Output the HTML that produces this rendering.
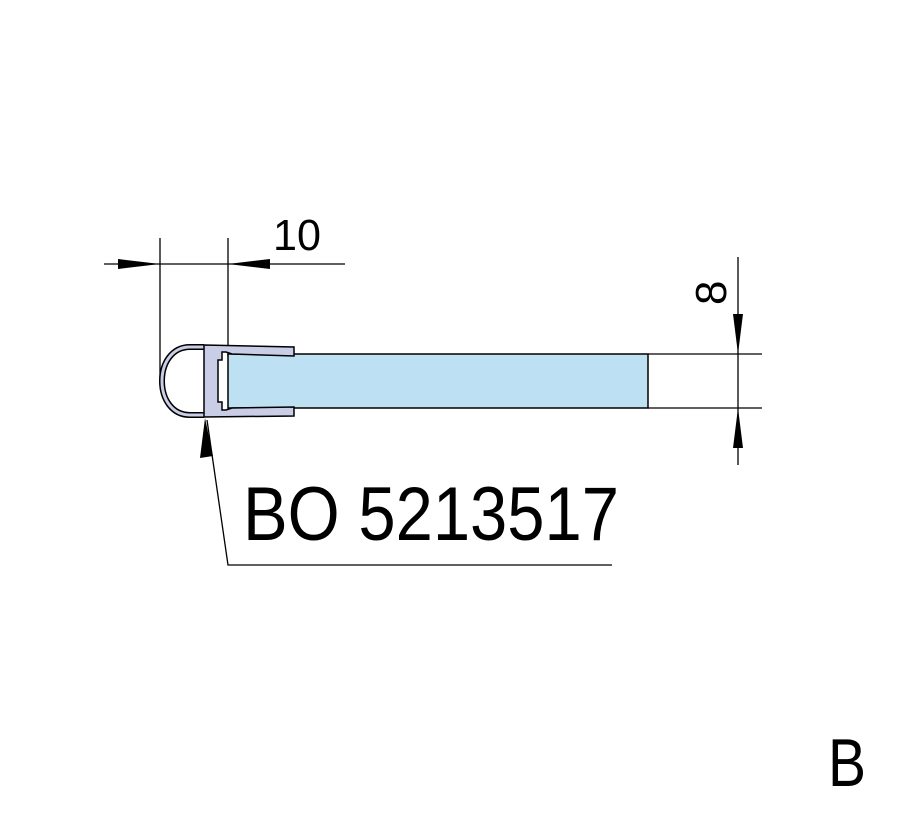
<!DOCTYPE html>
<html><head><meta charset="utf-8"><style>html,body{margin:0;padding:0;background:#fff}svg{display:block}</style></head>
<body>
<svg width="909" height="820" viewBox="0 0 909 820" xmlns="http://www.w3.org/2000/svg">
<g stroke="#000" stroke-width="1.3" fill="none">
<line x1="160" y1="238" x2="160" y2="385"/>
<line x1="228" y1="238" x2="228" y2="356"/>
<line x1="104" y1="264" x2="345" y2="264"/>
<line x1="648" y1="354" x2="762" y2="354"/>
<line x1="648" y1="408" x2="762" y2="408"/>
<line x1="738" y1="257" x2="738" y2="465"/>
<polyline points="207,420 228,565 612,565"/>
</g>
<g fill="#000">
<polygon points="160,264 118,259 118,269"/>
<polygon points="228,264 270,259 270,269"/>
<polygon points="738,354 733,314 743,314"/>
<polygon points="738,408 733,448 743,448"/>
<polygon points="205,418 200,458 213,456"/>
</g>
<rect x="228" y="354" width="420" height="54" fill="#bde0f2" stroke="#000" stroke-width="1.5"/>
<path d="M204,347 L190,347 C172,347 162,363 162,381 C162,399 172,415 190,415 L204,415" fill="none" stroke="#000" stroke-width="6"/>
<path d="M204,347 L190,347 C172,347 162,363 162,381 C162,399 172,415 190,415 L204,415" fill="none" stroke="#c9cde6" stroke-width="3"/>
<path d="M204,345 L294,347 L294,356 L232,354 L226,352 L222,352 L222,360 L218,360 L218,402 L222,402 L222,410 L226,410 L232,408 L294,407 L294,416 L204,417 Z" fill="#c9cde6" stroke="#000" stroke-width="1.5"/>
<g font-family="Liberation Sans, sans-serif" fill="#000">
<text x="273" y="250" font-size="44" textLength="48" lengthAdjust="spacingAndGlyphs">10</text>
<text x="0" y="0" font-size="44" transform="translate(726,305) rotate(-90)">8</text>
<text x="243" y="540" font-size="76" textLength="376" lengthAdjust="spacingAndGlyphs">BO 5213517</text>
<text x="828" y="786" font-size="68" textLength="38" lengthAdjust="spacingAndGlyphs">B</text>
</g>
</svg>
</body></html>
